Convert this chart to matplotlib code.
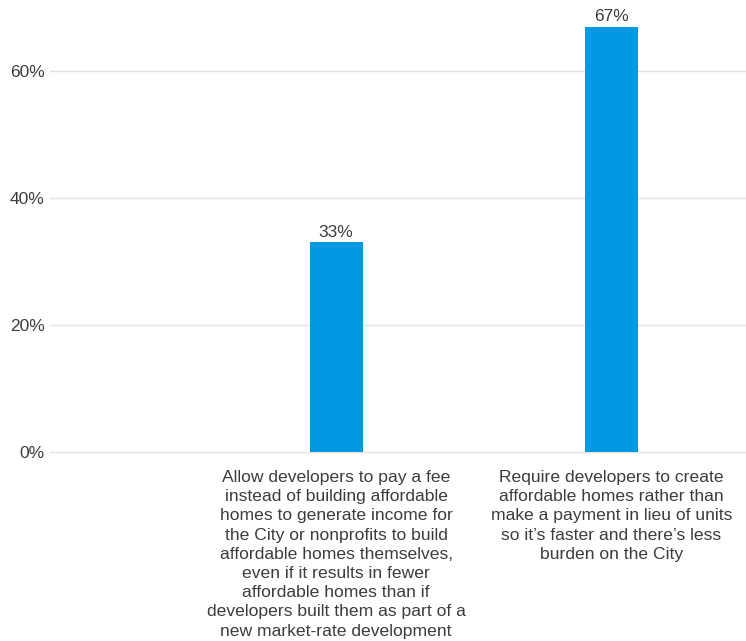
import matplotlib
matplotlib.use("Agg")
import matplotlib.pyplot as plt
import numpy as np

categories = [
    "Allow developers to pay a fee\ninstead of building affordable\nhomes to generate income for\nthe City or nonprofits to build\naffordable homes themselves,\neven if it results in fewer\naffordable homes than if\ndevelopers built them as part of a\nnew market-rate development",
    "Require developers to create\naffordable homes rather than\nmake a payment in lieu of units\nso it\u2019s faster and there\u2019s less\nburden on the City",
]
values = [33, 67]
yticks = [0, 20, 40, 60]
ytick_labels = ["0%", "20%", "40%", "60%"]

plt.rcParams['font.family'] = ['Liberation Sans', 'DejaVu Sans']
text_color = "#3c3c3c"

fig = plt.figure(figsize=(7.46, 6.41), dpi=100)
ax = fig.add_axes([50/746, 189/641, 696/746, (452-7.5)/641])

x = np.arange(len(values)) + 1
bars = ax.bar(x, values, width=0.193, color="#0398e2", zorder=3)
for xi, v in zip(x, values):
    ax.annotate(f"{v}%", (xi, v), xytext=(0, 2), textcoords="offset points",
                ha="center", va="bottom", fontsize=12.5, color=text_color)

ax.set_xlim(-0.04, 2.49)
ax.set_ylim(0, 70)
ax.set_yticks(yticks)
ax.set_yticklabels(ytick_labels)
ax.set_xticks(x)
ax.set_xticklabels(categories, linespacing=1.35, fontsize=12.6)
ax.grid(axis="y", color="#e3e3e3", linewidth=1, zorder=0)
for gl in ax.get_ygridlines():
    gl.set_clip_on(False)
for s in ax.spines.values():
    s.set_visible(False)
ax.tick_params(axis="both", length=0, labelcolor=text_color)
ax.tick_params(axis="y", pad=4, labelsize=12.5)
ax.tick_params(axis="x", pad=13)

fig.savefig("out.png", dpi=100)
